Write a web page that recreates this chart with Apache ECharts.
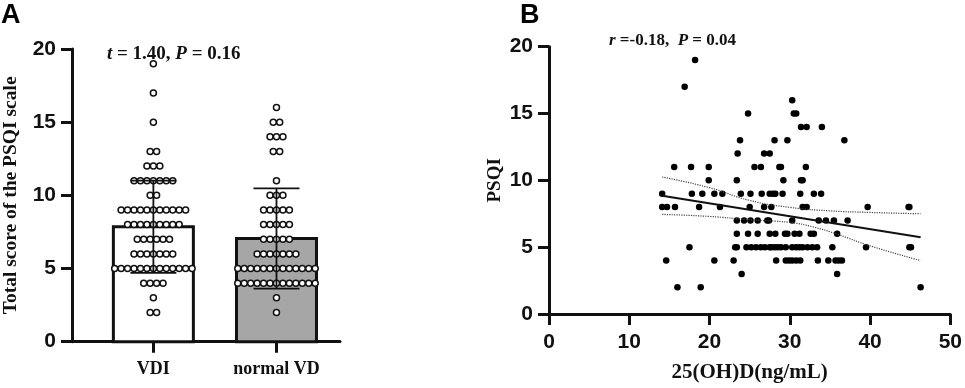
<!DOCTYPE html>
<html>
<head>
<meta charset="utf-8">
<script src="https://cdn.jsdelivr.net/npm/echarts@6/dist/echarts.min.js"></script>
<style>
  html, body { margin: 0; padding: 0; background: #fff; }
  #chart { width: 965px; height: 388px; }
</style>
</head>
<body>
<div id="chart"></div>
<script>
// ---- panel A: bar + dot plot ----
const groups = ['VDI', 'normal VD'];
const groupMeans = [7.85, 7.05];
const groupSD = [3.15, 3.42];

// individual PSQI scores
const vdiScores = [
  19, 17, 15, 13, 13, 12, 12, 12,
  11, 11, 11, 11, 11, 11, 11, 10, 10,
  9, 9, 9, 9, 9, 9, 9, 9, 9, 9, 9,
  8, 8, 8, 8, 8, 8, 8, 8, 8,
  7, 7, 7, 7, 7, 7,
  6, 6, 6, 6, 6, 6, 6,
  5, 5, 5, 5, 5, 5, 5, 5, 5, 5, 5, 5, 5,
  4, 4, 4, 4, 3, 2, 2
];
const normalScores = [
  16, 15, 15, 14, 14, 14, 13, 13, 11,
  10, 10, 10, 9, 9, 9, 9, 9,
  8, 8, 8, 8, 8, 7, 7, 7, 7, 7,
  6, 6, 6, 6, 6, 6, 6,
  5, 5, 5, 5, 5, 5, 5, 5, 5, 5, 5, 5, 5,
  4, 4, 4, 4, 4, 4, 4, 4, 4, 4, 4, 4, 4,
  3, 2
];

// ---- panel B: 25(OH)D vs PSQI ----
const vitD = [
  18.2, 16.9, 30.3,
  24.8, 30.5, 30.8,
  31.4, 32.1, 34.0,
  23.8, 28.1, 29.7, 36.8,
  23.5, 26.8, 27.5,
  15.6, 17.7, 19.9, 25.6, 26.4, 28.7, 28.9, 32.0,
  19.9, 23.4, 29.2, 31.4, 31.6,
  14.1, 17.8, 19.1, 20.6, 21.6, 23.9, 25.1, 26.5, 27.5, 27.9, 28.2, 29.1, 31.3, 33.0, 33.9,
  14.1, 14.7, 15.7, 18.7, 21.3, 25.0, 26.8, 27.7, 31.6, 32.1, 39.7, 44.8, 44.9,
  23.4, 24.3, 25.1, 26.0, 27.2, 27.4, 30.3, 33.6, 34.5, 35.5, 37.2,
  23.4, 24.8, 26.0, 27.5, 28.2, 29.4, 29.7, 30.6, 31.2, 32.6, 33.0, 35.9,
  17.5, 23.2, 23.4, 24.6, 25.2, 25.8, 26.4, 26.9, 27.5, 27.7, 28.1, 28.5, 28.9, 29.5,
  30.3, 30.8, 31.2, 31.6, 32.2, 32.8, 33.4, 35.3, 39.5, 44.9, 45.1,
  14.6, 20.6, 23.0, 28.3, 29.5, 29.9, 30.3, 30.8, 31.3, 33.5, 34.8, 35.7, 36.1, 36.5,
  24.0, 35.9,
  16.0, 18.9, 46.3
];
const psqi = [
  19, 17, 16,
  15, 15, 15,
  14, 14, 14,
  13, 13, 13, 13,
  12, 12, 12,
  11, 11, 11, 11, 11, 11, 11, 11,
  10, 10, 10, 10, 10,
  9, 9, 9, 9, 9, 9, 9, 9, 9, 9, 9, 9, 9, 9, 9,
  8, 8, 8, 8, 8, 8, 8, 8, 8, 8, 8, 8, 8,
  7, 7, 7, 7, 7, 7, 7, 7, 7, 7, 7,
  6, 6, 6, 6, 6, 6, 6, 6, 6, 6, 6, 6,
  5, 5, 5, 5, 5, 5, 5, 5, 5, 5, 5, 5, 5, 5,
  5, 5, 5, 5, 5, 5, 5, 5, 5, 5, 5,
  4, 4, 4, 4, 4, 4, 4, 4, 4, 4, 4, 4, 4, 4,
  3, 3,
  2, 2, 2
];
const fitLine = [[14.1, 8.85], [46.3, 5.75]];
const ciUpper = [[14.1, 10.25], [20, 9.45], [25, 8.5], [30, 7.98], [35, 7.72], [40, 7.6], [46.3, 7.5]];
const ciLower = [[14.1, 7.45], [20, 7.3], [25, 7.05], [30, 6.85], [33, 6.5], [36, 5.95], [40, 5.1], [46.3, 4.0]];

const SANS = '"Liberation Sans", Arial, sans-serif';
const SERIF = '"Liberation Serif", "Times New Roman", serif';
const INK = '#111';

// spread equal scores sideways like a column scatter
const DOT_STEP = 0.0524;
function swarm(scores, center) {
  const counts = {};
  scores.forEach(s => { counts[s] = (counts[s] || 0) + 1; });
  const seen = {};
  return scores.map(s => {
    const i = seen[s] = (seen[s] || 0) + 1;
    return [center + (i - 1 - (counts[s] - 1) / 2) * DOT_STEP, s];
  });
}

const chart = echarts.init(document.getElementById('chart'));

const axisLine = { show: true, onZero: false, lineStyle: { color: INK, width: 3 } };
const axisTick = { show: true, length: 11, lineStyle: { color: INK, width: 3 } };
const numLabel = { color: INK, fontFamily: SANS, fontWeight: 'bold', fontSize: 21 };

function annotation(left, top, size, parts) {
  return {
    type: 'text', left, top,
    style: {
      text: parts,
      rich: {
        n: { fontFamily: SERIF, fontWeight: 'bold', fontSize: size, fill: INK },
        i: { fontFamily: SERIF, fontWeight: 'bold', fontStyle: 'italic', fontSize: size, fill: INK }
      }
    }
  };
}

const option = {
  animation: false,
  grid: [
    { left: 70, right: 625, top: 49, bottom: 46.3 },
    { left: 549, right: 11, top: 46.7, bottom: 72 }
  ],
  xAxis: [
    {
      gridIndex: 0, type: 'value', min: -0.661, max: 1.516,
      axisLine,
      axisTick: { ...axisTick, customValues: [0, 1] },
      axisLabel: {
        customValues: [0, 1], margin: 19,
        formatter: v => groups[Math.round(v)],
        color: INK, fontFamily: SERIF, fontWeight: 'bold', fontSize: 18
      },
      splitLine: { show: false }
    },
    {
      gridIndex: 1, type: 'value', min: 0, max: 50, interval: 10,
      axisLine, axisTick,
      axisLabel: { ...numLabel, margin: 18 },
      splitLine: { show: false },
      name: '25(OH)D(ng/mL)', nameLocation: 'middle', nameGap: 48,
      nameTextStyle: { color: INK, fontFamily: SERIF, fontWeight: 'bold', fontSize: 21 }
    }
  ],
  yAxis: [
    {
      gridIndex: 0, type: 'value', min: 0, max: 20, interval: 5,
      axisLine, axisTick,
      axisLabel: { ...numLabel, margin: 16 },
      splitLine: { show: false },
      name: 'Total score of the PSQI scale', nameLocation: 'middle', nameGap: 51,
      nameTextStyle: { color: INK, fontFamily: SERIF, fontWeight: 'bold', fontSize: 19.5 }
    },
    {
      gridIndex: 1, type: 'value', min: 0, max: 20, interval: 5,
      axisLine, axisTick,
      axisLabel: { ...numLabel, margin: 16 },
      splitLine: { show: false },
      name: 'PSQI', nameLocation: 'middle', nameGap: 44,
      nameTextStyle: { color: INK, fontFamily: SERIF, fontWeight: 'bold', fontSize: 19 }
    }
  ],
  series: [
    {
      type: 'custom', xAxisIndex: 0, yAxisIndex: 0, z: 1,
      data: groupMeans.map((m, i) => [i, m]),
      encode: { x: 0, y: 1 },
      renderItem: (params, api) => {
        const base = api.coord([api.value(0), 0]);
        const top = api.coord([api.value(0), api.value(1)]);
        return {
          type: 'rect',
          shape: { x: base[0] - 40, y: top[1], width: 80, height: base[1] - top[1] },
          style: { fill: params.dataIndex === 0 ? '#fff' : '#a6a6a6', stroke: INK, lineWidth: 3 }
        };
      }
    },
    {
      type: 'scatter', xAxisIndex: 0, yAxisIndex: 0, z: 2,
      symbol: 'circle', symbolSize: 6,
      itemStyle: { color: '#fff', borderColor: INK, borderWidth: 1.5, opacity: 1 },
      data: swarm(vdiScores, 0).concat(swarm(normalScores, 1))
    },
    {
      type: 'custom', xAxisIndex: 0, yAxisIndex: 0, z: 3,
      data: groupMeans.map((m, i) => [i, m, groupSD[i]]),
      encode: { x: 0, y: 1 },
      renderItem: (params, api) => {
        const x = api.value(0), m = api.value(1), sd = api.value(2);
        const hi = api.coord([x, m + sd]);
        const lo = api.coord([x, m - sd]);
        const st = { stroke: INK, lineWidth: 1.8 };
        return {
          type: 'group',
          children: [
            { type: 'line', shape: { x1: hi[0], y1: hi[1], x2: lo[0], y2: lo[1] }, style: st },
            { type: 'line', shape: { x1: hi[0] - 23, y1: hi[1], x2: hi[0] + 23, y2: hi[1] }, style: st },
            { type: 'line', shape: { x1: lo[0] - 23, y1: lo[1], x2: lo[0] + 23, y2: lo[1] }, style: st }
          ]
        };
      }
    },
    {
      type: 'scatter', xAxisIndex: 1, yAxisIndex: 1, z: 2,
      symbol: 'circle', symbolSize: 6.5,
      itemStyle: { color: '#000', opacity: 1 },
      data: vitD.map((v, i) => [v, psqi[i]])
    },
    {
      type: 'line', xAxisIndex: 1, yAxisIndex: 1, z: 3,
      showSymbol: false, data: fitLine,
      lineStyle: { color: INK, width: 2 }
    },
    {
      type: 'line', xAxisIndex: 1, yAxisIndex: 1, z: 3,
      showSymbol: false, smooth: true, data: ciUpper,
      lineStyle: { color: '#444', width: 1.2, type: 'dotted' }
    },
    {
      type: 'line', xAxisIndex: 1, yAxisIndex: 1, z: 3,
      showSymbol: false, smooth: true, data: ciLower,
      lineStyle: { color: '#444', width: 1.2, type: 'dotted' }
    }
  ],
  graphic: [
    { type: 'text', left: 1, top: 2, style: { text: 'A', fill: '#000', font: 'bold 27px ' + SANS } },
    { type: 'text', left: 520, top: 2, style: { text: 'B', fill: '#000', font: 'bold 27px ' + SANS } },
    annotation(107, 45, 19, '{i|t}{n| = 1.40, }{i|P}{n| = 0.16}'),
    annotation(609, 32, 17, '{i|r}{n| =-0.18,  }{i|P}{n| = 0.04}')
  ]
};

chart.setOption(option);
window.addEventListener('resize', () => chart.resize());
</script>
</body>
</html>
